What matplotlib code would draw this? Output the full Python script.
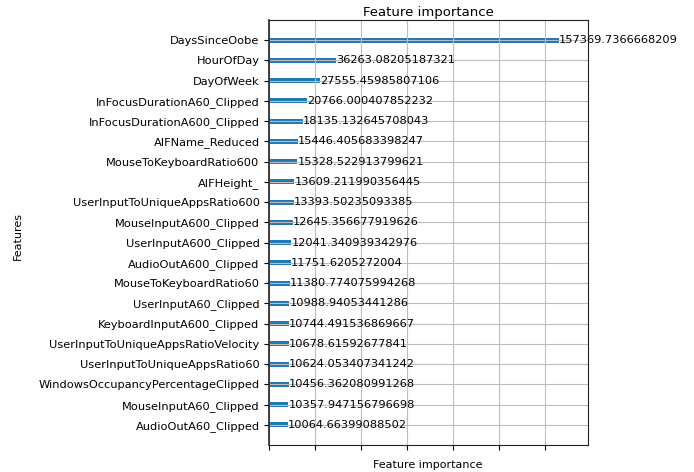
import matplotlib
matplotlib.use("Agg")
import matplotlib.pyplot as plt

features = [
    "DaysSinceOobe", "HourOfDay", "DayOfWeek", "InFocusDurationA60_Clipped",
    "InFocusDurationA600_Clipped", "AIFName_Reduced", "MouseToKeyboardRatio600",
    "AIFHeight_", "UserInputToUniqueAppsRatio600", "MouseInputA600_Clipped",
    "UserInputA600_Clipped", "AudioOutA600_Clipped", "MouseToKeyboardRatio60",
    "UserInputA60_Clipped", "KeyboardInputA600_Clipped",
    "UserInputToUniqueAppsRatioVelocity", "UserInputToUniqueAppsRatio60",
    "WindowsOccupancyPercentageClipped", "MouseInputA60_Clipped",
    "AudioOutA60_Clipped",
]
importance = [
    157369.7366668209, 36263.08205187321, 27555.45985807106, 20766.000407852232,
    18135.132645708043, 15446.405683398247, 15328.522913799621,
    13609.211990356445, 13393.50235093385, 12645.356677919626,
    12041.340939342976, 11751.6205272004, 11380.774075994268,
    10988.94053441286, 10744.491536869667, 10678.61592677841,
    10624.053407341242, 10456.362080991268, 10357.947156796698,
    10064.66399088502,
]
x_ticks = [0, 25000, 50000, 75000, 100000, 125000, 150000]

# plot in ascending order (bottom = smallest)
feats = features[::-1]
vals = importance[::-1]
ylocs = list(range(len(vals)))

fig = plt.figure(figsize=(6.94, 4.72), dpi=100)
ax = fig.add_axes([0.388, 0.057, 0.459, 0.901])
ax.barh(ylocs, vals, align="center", height=0.25, color="#1f77b4")
for x, y in zip(vals, ylocs):
    ax.text(x + 1, y, str(x), va="center", fontsize=8.2)

ax.set_yticks(ylocs)
ax.set_yticklabels(feats, fontsize=8.2)
ax.set_xticks(x_ticks)
ax.set_xticklabels([""] * len(x_ticks))
ax.set_xlim(0, max(vals) * 1.1)
ax.set_ylim(-1, len(vals))
ax.grid(True, color="#bdbdbd", linewidth=0.8)
for sp in ax.spines.values():
    sp.set_color("#222222")
ax.spines["left"].set_linewidth(1.2)
ax.set_title("Feature importance", fontsize=9.5, pad=3)
fig.text(0.617, 0.004, "Feature importance", ha="center", va="bottom", fontsize=8)
fig.text(0.026, 0.5, "Features", rotation=90, va="center", ha="center", fontsize=8)

fig.savefig("out.png", dpi=100)
